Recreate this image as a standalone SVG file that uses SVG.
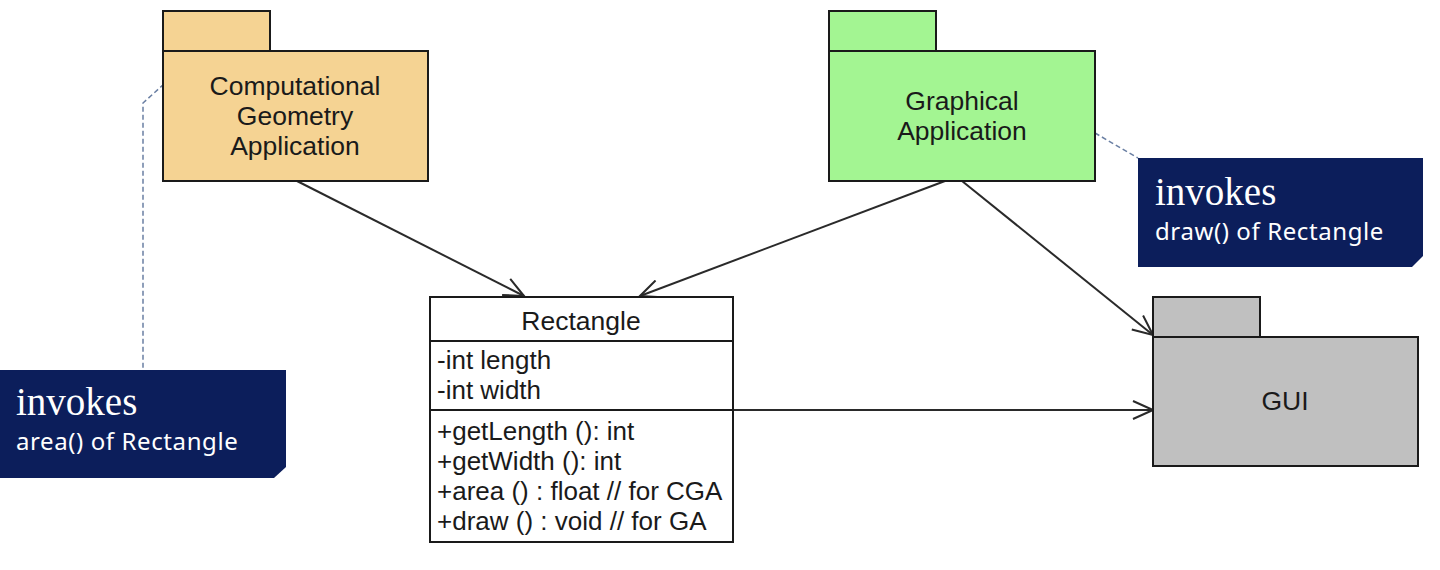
<svg xmlns="http://www.w3.org/2000/svg" width="1440" height="570" viewBox="0 0 1440 570">
<style>
.pkg{stroke:#1a1a1a;stroke-width:2}
.lbl{font-family:"Liberation Sans",Arial,sans-serif;font-size:26.5px;fill:#1a1a1a;text-anchor:middle}
.mem{font-family:"Liberation Sans",Arial,sans-serif;font-size:26px;fill:#1a1a1a}
.note{fill:#0c1e5b}
.inv{font-family:"Liberation Serif","Times New Roman",serif;font-size:39px;fill:#ffffff}
.sub{font-family:"Noto Sans",sans-serif;font-size:24px;letter-spacing:0.6px;fill:#ffffff}
.conn{stroke:#2a2a2a;stroke-width:2;fill:none}
.dash{stroke:#6a7fa3;stroke-width:1.5;fill:none;stroke-dasharray:5,3}
</style>
<defs>
<marker id="open" markerWidth="24" markerHeight="20" refX="22" refY="10" orient="auto" markerUnits="userSpaceOnUse">
<path d="M2,1 L22,10 L2,19" fill="none" stroke="#2a2a2a" stroke-width="2"/>
</marker>
</defs>
<rect width="1440" height="570" fill="#ffffff"/>
<g id="connectors">
<line class="conn" x1="297" y1="181" x2="524" y2="296" marker-end="url(#open)"/>
<line class="conn" x1="945" y1="181" x2="640" y2="296" marker-end="url(#open)"/>
<line class="conn" x1="962" y1="181" x2="1153" y2="335" marker-end="url(#open)"/>
<line class="conn" x1="733" y1="410" x2="1153" y2="410" marker-end="url(#open)"/>
<polyline class="dash" points="164,84 143,103 143,370"/>
<line class="dash" x1="1095" y1="133" x2="1138" y2="158"/>
</g>
<g id="cga">
<rect class="pkg" x="163" y="11" width="107" height="40" fill="#f5d393"/>
<rect class="pkg" x="163" y="51" width="265" height="130" fill="#f5d393"/>
<text class="lbl" x="295" y="95">Computational</text>
<text class="lbl" x="295" y="125">Geometry</text>
<text class="lbl" x="295" y="155">Application</text>
</g>
<g id="ga">
<rect class="pkg" x="829" y="11" width="107" height="40" fill="#a3f592"/>
<rect class="pkg" x="829" y="51" width="266" height="130" fill="#a3f592"/>
<text class="lbl" x="962" y="110">Graphical</text>
<text class="lbl" x="962" y="140">Application</text>
</g>
<g id="gui">
<rect class="pkg" x="1153" y="297" width="107" height="40" fill="#c0c0c0"/>
<rect class="pkg" x="1153" y="337" width="265" height="129" fill="#c0c0c0"/>
<text class="lbl" x="1285" y="410">GUI</text>
</g>
<g id="rectangle">
<rect class="pkg" x="430" y="297" width="303" height="245" fill="#ffffff"/>
<line class="pkg" x1="430" y1="341" x2="733" y2="341"/>
<line class="pkg" x1="430" y1="410" x2="733" y2="410"/>
<text class="lbl" x="581" y="330">Rectangle</text>
<text class="mem" x="437" y="369">-int length</text>
<text class="mem" x="437" y="399">-int width</text>
<text class="mem" x="437" y="440">+getLength (): int</text>
<text class="mem" x="437" y="470">+getWidth (): int</text>
<text class="mem" x="437" y="500">+area () : float // for CGA</text>
<text class="mem" x="437" y="530">+draw () : void // for GA</text>
</g>
<g id="note-area">
<polygon class="note" points="0,370 286,370 286,467 274,478 0,478"/>
<text class="inv" x="16" y="415">invokes</text>
<text class="sub" x="16" y="450">area() of Rectangle</text>
</g>
<g id="note-draw">
<polygon class="note" points="1138,158 1423,158 1423,256 1412,267 1138,267"/>
<text class="inv" x="1155" y="205">invokes</text>
<text class="sub" x="1155" y="240">draw() of Rectangle</text>
</g>
</svg>
